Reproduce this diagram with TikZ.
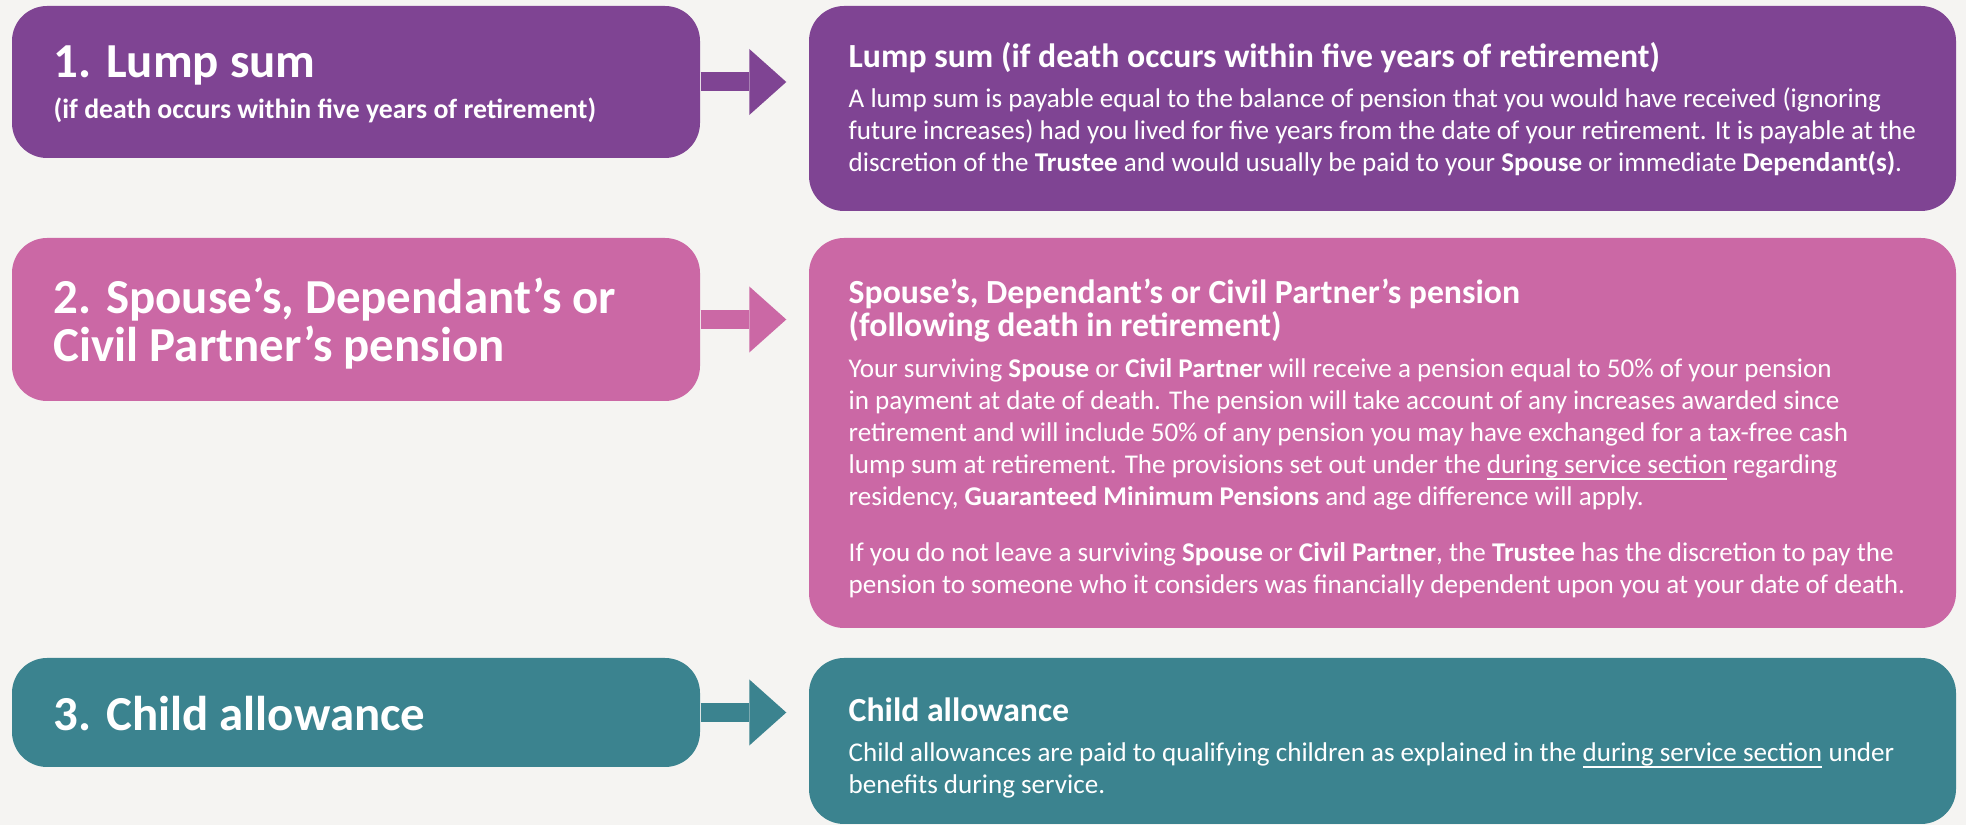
\documentclass[tikz,border=0pt]{standalone}
\usepackage{fontspec}
\setmainfont{Carlito}
\usetikzlibrary{arrows.meta,fit}
\definecolor{bgcol}{HTML}{F5F4F2}
\definecolor{plum}{HTML}{7F4493}
\definecolor{rose}{HTML}{CB68A5}
\definecolor{petrol}{HTML}{3B838F}
\newcommand{\linkul}[1]{\underline{\smash{#1}}}
\tikzset{
  panel/.style={fill=#1, rounded corners=0.35cm, inner sep=0pt},
  flow/.style={draw=#1, line width=0.19cm, shorten >=0.22cm,
    -{Triangle[length=0.37cm, width=0.66cm, line width=0pt]}},
  bigtitle/.style={anchor=base west, inner sep=0pt, text=white, align=left,
    font=\bfseries\fontsize{13.9}{13.9}\selectfont},
  subtitle/.style={anchor=base west, inner sep=0pt, text=white,
    font=\bfseries\fontsize{7.9}{8}\selectfont},
  header/.style={anchor=base west, inner sep=0pt, text=white, align=left,
    font=\bfseries\fontsize{9.6}{9.4}\selectfont},
  bodytext/.style={anchor=base west, inner sep=0pt, text=white, align=left,
    font=\fontsize{7.7}{9.1}\selectfont}
}
\begin{document}
\begin{tikzpicture}[x=0.01cm,y=-0.01cm]
\fill[bgcol] (0,0) rectangle (1966,825);
\useasboundingbox (0,0) rectangle (1966,825);
% left column
\node[panel=plum, fit={(12,6) (700,158)}] (s1) {};
\node[panel=rose, fit={(12,238) (700,401)}] (s2) {};
\node[panel=petrol, fit={(12,658) (700,767)}] (s3) {};
% right column
\node[panel=plum, fit={(809,6) (1956,211)}] (d1) {};
\node[panel=rose, fit={(809,238) (1956,628)}] (d2) {};
\node[panel=petrol, fit={(809,658) (1956,824)}] (d3) {};
% arrows
\draw[flow=plum] (s1.east) -- (s1.east -| d1.west);
\draw[flow=rose] (s2.east) -- (s2.east -| d2.west);
\draw[flow=petrol] (s3.east) -- (s3.east -| d3.west);
% left texts (anchored on the last baseline)
\node[bigtitle] (t1) at (53,78) {1. Lump sum};
\node[subtitle] (u1) at (53,119) {(if death occurs within five years of retirement)};
\node[bigtitle] (t2) at (53,362) {2. Spouse’s, Dependant’s or\\Civil Partner’s pension};
\node[bigtitle] (t3) at (53,731) {3. Child allowance};
% right texts
\node[header] (h1) at (848,68) {Lump sum (if death occurs within five years of retirement)};
\node[bodytext] (b1) at (848,172) {A lump sum is payable equal to the balance of pension that you would have received (ignoring\\
future increases) had you lived for five years from the date of your retirement. It is payable at the\\
discretion of the \textbf{Trustee} and would usually be paid to your \textbf{Spouse} or immediate \textbf{Dependant(s)}.};
\node[header] (h2) at (848,337) {Spouse’s, Dependant’s or Civil Partner’s pension\\(following death in retirement)};
\node[bodytext] (b2) at (848,506) {Your surviving \textbf{Spouse} or \textbf{Civil Partner} will receive a pension equal to 50\% of your pension\\
in payment at date of death. The pension will take account of any increases awarded since\\
retirement and will include 50\% of any pension you may have exchanged for a tax-free cash\\
lump sum at retirement. The provisions set out under the \linkul{during service section} regarding\\
residency, \textbf{Guaranteed Minimum Pensions} and age difference will apply.};
\node[bodytext] (b2b) at (848,594) {If you do not leave a surviving \textbf{Spouse} or \textbf{Civil Partner}, the \textbf{Trustee} has the discretion to pay the\\
pension to someone who it considers was financially dependent upon you at your date of death.};
\node[header] (h3) at (848,722) {Child allowance};
\node[bodytext] (b3) at (848,794) {Child allowances are paid to qualifying children as explained in the \linkul{during service section} under\\
benefits during service.};
\end{tikzpicture}
\end{document}
